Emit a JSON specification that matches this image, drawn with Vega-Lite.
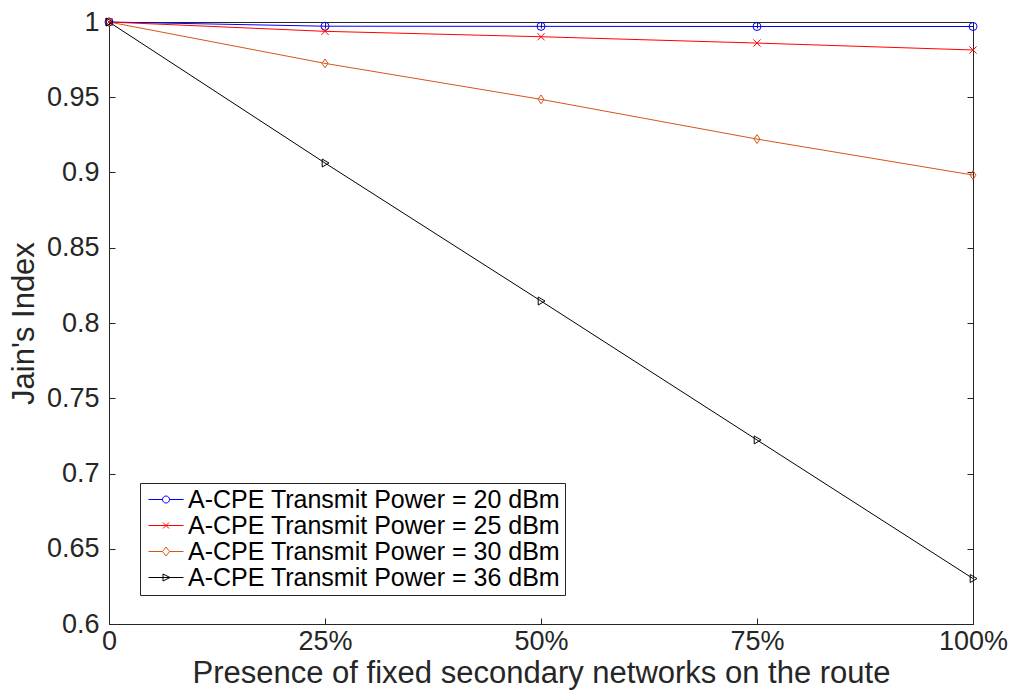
{
  "$schema": "https://vega.github.io/schema/vega-lite/v6.json",
  "width": 864,
  "height": 602,
  "autosize": "none",
  "padding": {"left": 109, "top": 22, "right": 40, "bottom": 73},
  "background": "white",
  "config": {
    "font": "Liberation Sans",
    "view": {"stroke": "#262626", "strokeWidth": 1},
    "axis": {
      "domainColor": "#262626", "tickColor": "#262626", "labelColor": "#262626", "titleColor": "#262626",
      "labelFontSize": 27, "titleFontSize": 31, "titleFontWeight": "normal", "grid": false,
      "labelFont": "Liberation Sans", "titleFont": "Liberation Sans", "tickWidth": 1, "domainWidth": 1
    },
    "legend": {
      "labelFont": "Liberation Sans", "labelFontSize": 25, "labelColor": "#000000",
      "strokeColor": "#262626", "fillColor": "white", "padding": 4, "rowPadding": -0.3,
      "labelOffset": 19, "symbolStrokeWidth": 1, "symbolSize": 100, "labelLimit": 0
    }
  },
  "data": {
    "values": [
      {"x": 0, "y": 1.0, "s": "A-CPE Transmit Power = 20 dBm"},
      {"x": 25, "y": 0.9972, "s": "A-CPE Transmit Power = 20 dBm"},
      {"x": 50, "y": 0.9971, "s": "A-CPE Transmit Power = 20 dBm"},
      {"x": 75, "y": 0.997, "s": "A-CPE Transmit Power = 20 dBm"},
      {"x": 100, "y": 0.997, "s": "A-CPE Transmit Power = 20 dBm"},
      {"x": 0, "y": 1.0, "s": "A-CPE Transmit Power = 25 dBm"},
      {"x": 25, "y": 0.9938, "s": "A-CPE Transmit Power = 25 dBm"},
      {"x": 50, "y": 0.9902, "s": "A-CPE Transmit Power = 25 dBm"},
      {"x": 75, "y": 0.986, "s": "A-CPE Transmit Power = 25 dBm"},
      {"x": 100, "y": 0.9814, "s": "A-CPE Transmit Power = 25 dBm"},
      {"x": 0, "y": 1.0, "s": "A-CPE Transmit Power = 30 dBm"},
      {"x": 25, "y": 0.9725, "s": "A-CPE Transmit Power = 30 dBm"},
      {"x": 50, "y": 0.9486, "s": "A-CPE Transmit Power = 30 dBm"},
      {"x": 75, "y": 0.9222, "s": "A-CPE Transmit Power = 30 dBm"},
      {"x": 100, "y": 0.8983, "s": "A-CPE Transmit Power = 30 dBm"},
      {"x": 0, "y": 1.0, "s": "A-CPE Transmit Power = 36 dBm"},
      {"x": 25, "y": 0.9063, "s": "A-CPE Transmit Power = 36 dBm"},
      {"x": 50, "y": 0.8146, "s": "A-CPE Transmit Power = 36 dBm"},
      {"x": 75, "y": 0.7223, "s": "A-CPE Transmit Power = 36 dBm"},
      {"x": 100, "y": 0.6302, "s": "A-CPE Transmit Power = 36 dBm"}
    ]
  },
  "layer": [
    {
      "mark": {"type": "line", "strokeWidth": 1},
      "encoding": {
        "x": {"field": "x", "type": "quantitative", "scale": {"domain": [0, 100], "nice": false, "zero": false},
          "axis": {"orient": "bottom", "values": [0, 25, 50, 75, 100], "labelExpr": "datum.value == 0 ? '0' : datum.value + '%'",
            "title": "Presence of fixed secondary networks on the route", "tickSize": -6, "labelPadding": 10, "labelFlush": false, "titlePadding": 4}},
        "y": {"field": "y", "type": "quantitative", "scale": {"domain": [0.6, 1], "nice": false, "zero": false},
          "axis": {"orient": "left", "values": [0.6, 0.65, 0.7, 0.75, 0.8, 0.85, 0.9, 0.95, 1], "format": ".2~f",
            "title": "Jain's Index", "tickSize": -6, "labelPadding": 16, "labelFlush": false, "titlePadding": 6}},
        "color": {"field": "s", "type": "nominal",
          "scale": {"domain": ["A-CPE Transmit Power = 20 dBm", "A-CPE Transmit Power = 25 dBm", "A-CPE Transmit Power = 30 dBm", "A-CPE Transmit Power = 36 dBm"],
            "range": ["#0000FF", "#FF0000", "#D95319", "#000000"]}, "legend": null}
      }
    },
    {
      "mark": {"type": "point", "filled": false, "strokeWidth": 1, "size": 64, "opacity": 1},
      "encoding": {
        "x": {"field": "x", "type": "quantitative", "scale": {"domain": [0, 100], "nice": false, "zero": false},
          "axis": {"orient": "top", "values": [0, 25, 50, 75, 100], "labels": false, "title": null, "tickSize": -6}},
        "y": {"field": "y", "type": "quantitative", "scale": {"domain": [0.6, 1], "nice": false, "zero": false},
          "axis": {"orient": "right", "values": [0.6, 0.65, 0.7, 0.75, 0.8, 0.85, 0.9, 0.95, 1], "labels": false, "title": null, "tickSize": -6}},
        "color": {"field": "s", "type": "nominal",
          "scale": {"domain": ["A-CPE Transmit Power = 20 dBm", "A-CPE Transmit Power = 25 dBm", "A-CPE Transmit Power = 30 dBm", "A-CPE Transmit Power = 36 dBm"],
            "range": ["#0000FF", "#FF0000", "#D95319", "#000000"]}, "legend": null},
        "shape": {"field": "s", "type": "nominal",
          "scale": {"domain": ["A-CPE Transmit Power = 20 dBm", "A-CPE Transmit Power = 25 dBm", "A-CPE Transmit Power = 30 dBm", "A-CPE Transmit Power = 36 dBm"],
            "range": ["circle", "M-0.9,-0.9L0.9,0.9M-0.9,0.9L0.9,-0.9", "M0,-1.1L0.75,0L0,1.1L-0.75,0Z", "M-0.7,-1L1,0L-0.7,1Z"]}, "legend": null}
      }
    },
    {
      "transform": [{"filter": "false"}],
      "mark": {"type": "point", "filled": false, "strokeWidth": 1, "size": 100, "opacity": 1},
      "encoding": {
        "x": {"field": "x", "type": "quantitative", "axis": null},
        "y": {"field": "y", "type": "quantitative", "axis": null},
        "color": {"field": "s", "type": "nominal",
          "scale": {"domain": ["A-CPE Transmit Power = 20 dBm", "A-CPE Transmit Power = 25 dBm", "A-CPE Transmit Power = 30 dBm", "A-CPE Transmit Power = 36 dBm"],
            "range": ["#0000FF", "#FF0000", "#D95319", "#000000"]},
          "legend": {"title": null, "orient": "none", "legendX": 31, "legendY": 461}},
        "shape": {"field": "s", "type": "nominal",
          "scale": {"domain": ["A-CPE Transmit Power = 20 dBm", "A-CPE Transmit Power = 25 dBm", "A-CPE Transmit Power = 30 dBm", "A-CPE Transmit Power = 36 dBm"],
            "range": [
              "M-1.6,0H1.2M2.6,0H5.4M2.6,0A0.7,0.7,0,1,1,1.2,0A0.7,0.7,0,1,1,2.6,0",
              "M-1.6,0H5.4M1.3,-0.6L2.5,0.6M1.3,0.6L2.5,-0.6",
              "M-1.6,0H1.2M2.6,0H5.4M1.9,-0.9L2.6,0L1.9,0.9L1.2,0Z",
              "M-1.6,0H5.4M1.3,-0.7L2.7,0L1.3,0.7Z"
            ]},
          "legend": {"title": null, "orient": "none", "legendX": 31, "legendY": 461}}
      }
    }
  ],
  "resolve": {
    "scale": {"shape": "independent", "color": "independent"},
    "axis": {"x": "independent", "y": "independent"}
  }
}
